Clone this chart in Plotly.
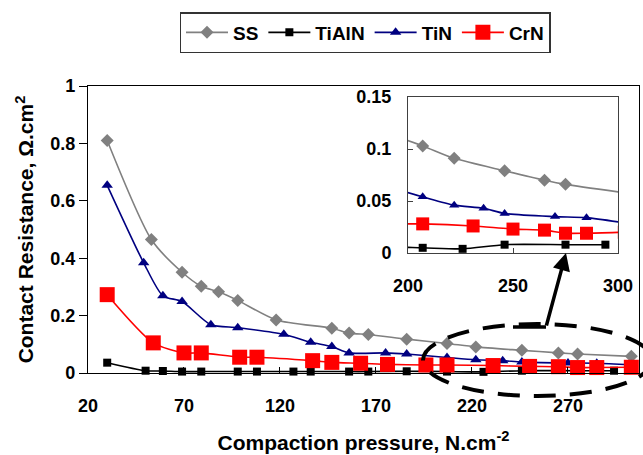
import plotly.graph_objects as go

# ---- data ----
ss_x = [30, 53, 69, 79, 88, 98, 118, 147, 156, 166, 186, 207, 222, 246, 265, 275, 303]
ss_y = [0.81, 0.465, 0.351, 0.302, 0.283, 0.253, 0.185, 0.156, 0.139, 0.134, 0.118, 0.103, 0.091, 0.079, 0.070, 0.066, 0.058]

tialn_x = [30, 50, 59, 69, 79, 98, 108, 127, 136, 156, 166, 186, 207, 226, 246, 275, 294]
tialn_y = [0.036, 0.008, 0.007, 0.005, 0.005, 0.005, 0.005, 0.005, 0.005, 0.005, 0.005, 0.006, 0.005, 0.004, 0.008, 0.008, 0.008]

tin_x = [30, 49, 59, 69, 84, 98, 122, 136, 147, 156, 175, 186, 207, 222, 236, 246, 270, 285, 303]
tin_y = [0.654, 0.384, 0.269, 0.249, 0.168, 0.158, 0.135, 0.107, 0.092, 0.070, 0.070, 0.066, 0.054, 0.046, 0.043, 0.038, 0.035, 0.034, 0.029]

crn_x = [30, 54, 70, 79, 99, 108, 137, 147, 162, 176, 196, 207, 231, 250, 265, 275, 285, 303]
crn_y = [0.273, 0.105, 0.070, 0.070, 0.055, 0.055, 0.043, 0.037, 0.034, 0.030, 0.028, 0.028, 0.026, 0.023, 0.022, 0.019, 0.019, 0.020]

main_xticks = [20, 70, 120, 170, 220, 270]
main_yticks = [0, 0.2, 0.4, 0.6, 0.8, 1]
inset_xticks = [200, 250, 300]
inset_yticks = [0, 0.05, 0.1, 0.15]

# ---- layout geometry ----
W, H = 643, 455
ML, MR, MT, MB = 88, 4, 86, 82
PW, PH = W - ML - MR, H - MT - MB


def px(xp):
    return (xp - ML) / PW


def py(yp):
    return (H - MB - yp) / PH


FONT = "Liberation Sans, Arial, sans-serif"

series = [
    ("SS", ss_x, ss_y, "#808080", "diamond", 10, 10),
    ("TiAlN", tialn_x, tialn_y, "#000000", "square", 8, 8),
    ("TiN", tin_x, tin_y, "#000080", "triangle-up", 10, 9),
    ("CrN", crn_x, crn_y, "#FF0000", "square", 15, 13),
]

fig = go.Figure()
for name, xs, ys, color, sym, s_main, s_in in series:
    fig.add_trace(go.Scatter(
        x=xs, y=ys, name=name, mode="lines+markers",
        line=dict(color=color, width=1.6, shape="spline", smoothing=0.7),
        marker=dict(symbol=sym, size=s_main, color=color),
        cliponaxis=False,
    ))
for name, xs, ys, color, sym, s_main, s_in in series:
    fig.add_trace(go.Scatter(
        x=xs, y=ys, name=name, mode="lines+markers", showlegend=False,
        xaxis="x2", yaxis="y2",
        line=dict(color=color, width=1.6, shape="spline", smoothing=0.7),
        marker=dict(symbol=sym, size=s_in, color=color),
    ))

tickfont = dict(family=FONT, size=18, color="black", weight="bold")

fig.update_layout(
    width=W, height=H,
    margin=dict(l=ML, r=MR, t=MT, b=MB, autoexpand=False),
    paper_bgcolor="white", plot_bgcolor="white",
    font=dict(family=FONT, color="black"),
    xaxis=dict(
        domain=[0, 1], range=[20, 307], tickvals=main_xticks,
        ticks="inside", ticklen=6, tickcolor="black",
        showline=True, linecolor="black", linewidth=1.2, mirror=True,
        showgrid=False, zeroline=False, tickfont=tickfont,
        ticklabelstandoff=16, automargin=False,
        title=dict(text="Compaction pressure, N.cm<sup>-2</sup>", standoff=20,
                   font=dict(family=FONT, size=21, color="black", weight="bold")),
    ),
    yaxis=dict(
        domain=[0, 1], range=[0, 1], tickvals=main_yticks,
        ticks="outside", ticklen=8, tickcolor="black",
        showline=True, linecolor="black", linewidth=1.2, mirror=True,
        showgrid=False, zeroline=False, tickfont=tickfont, automargin=False,
        title=dict(text="Contact Resistance, Ω.cm<sup>2</sup>", standoff=10,
                   font=dict(family=FONT, size=21, color="black", weight="bold")),
    ),
    xaxis2=dict(
        domain=[px(408), px(618)], range=[200, 300], tickvals=inset_xticks,
        anchor="y2", ticks="inside", ticklen=5, tickcolor="#404040",
        showline=True, linecolor="#404040", linewidth=1, mirror=True,
        showgrid=False, zeroline=False, tickfont=tickfont,
        ticklabelstandoff=16, automargin=False,
    ),
    yaxis2=dict(
        domain=[py(253), py(97)], range=[0, 0.15], tickvals=inset_yticks,
        anchor="x2", ticks="inside", ticklen=5, tickcolor="#404040",
        showline=True, linecolor="#404040", linewidth=1, mirror=True,
        showgrid=False, zeroline=False, tickfont=tickfont,
        ticklabelstandoff=12, automargin=False,
    ),
    legend=dict(
        orientation="h", x=px(365), y=py(12), xanchor="center", yanchor="top",
        bgcolor="white", bordercolor="#333333", borderwidth=1.5,
        font=dict(family=FONT, size=19, color="black", weight="bold"),
        itemwidth=42, tracegroupgap=0,
    ),
    showlegend=True,
)

# dashed ellipse highlighting the zoomed region
fig.add_shape(type="circle", xref="paper", yref="paper",
              x0=px(423), x1=px(652), y0=py(396), y1=py(324),
              line=dict(color="black", width=4, dash="22px,14px"))
# arrow from ellipse to inset
fig.add_shape(type="line", xref="paper", yref="paper",
              x0=px(513), y0=py(327), x1=px(546), y1=py(327),
              line=dict(color="black", width=3.5))
fig.add_annotation(xref="paper", yref="paper", x=px(566), y=py(253),
                   ax=546 - 566, ay=327 - 253, text="", showarrow=True,
                   arrowhead=2, arrowsize=1, arrowwidth=3.5, arrowcolor="black")

fig.write_html("out.html", config={"displayModeBar": False},
               post_script="document.body.style.margin='0';document.body.style.overflow='hidden';")
